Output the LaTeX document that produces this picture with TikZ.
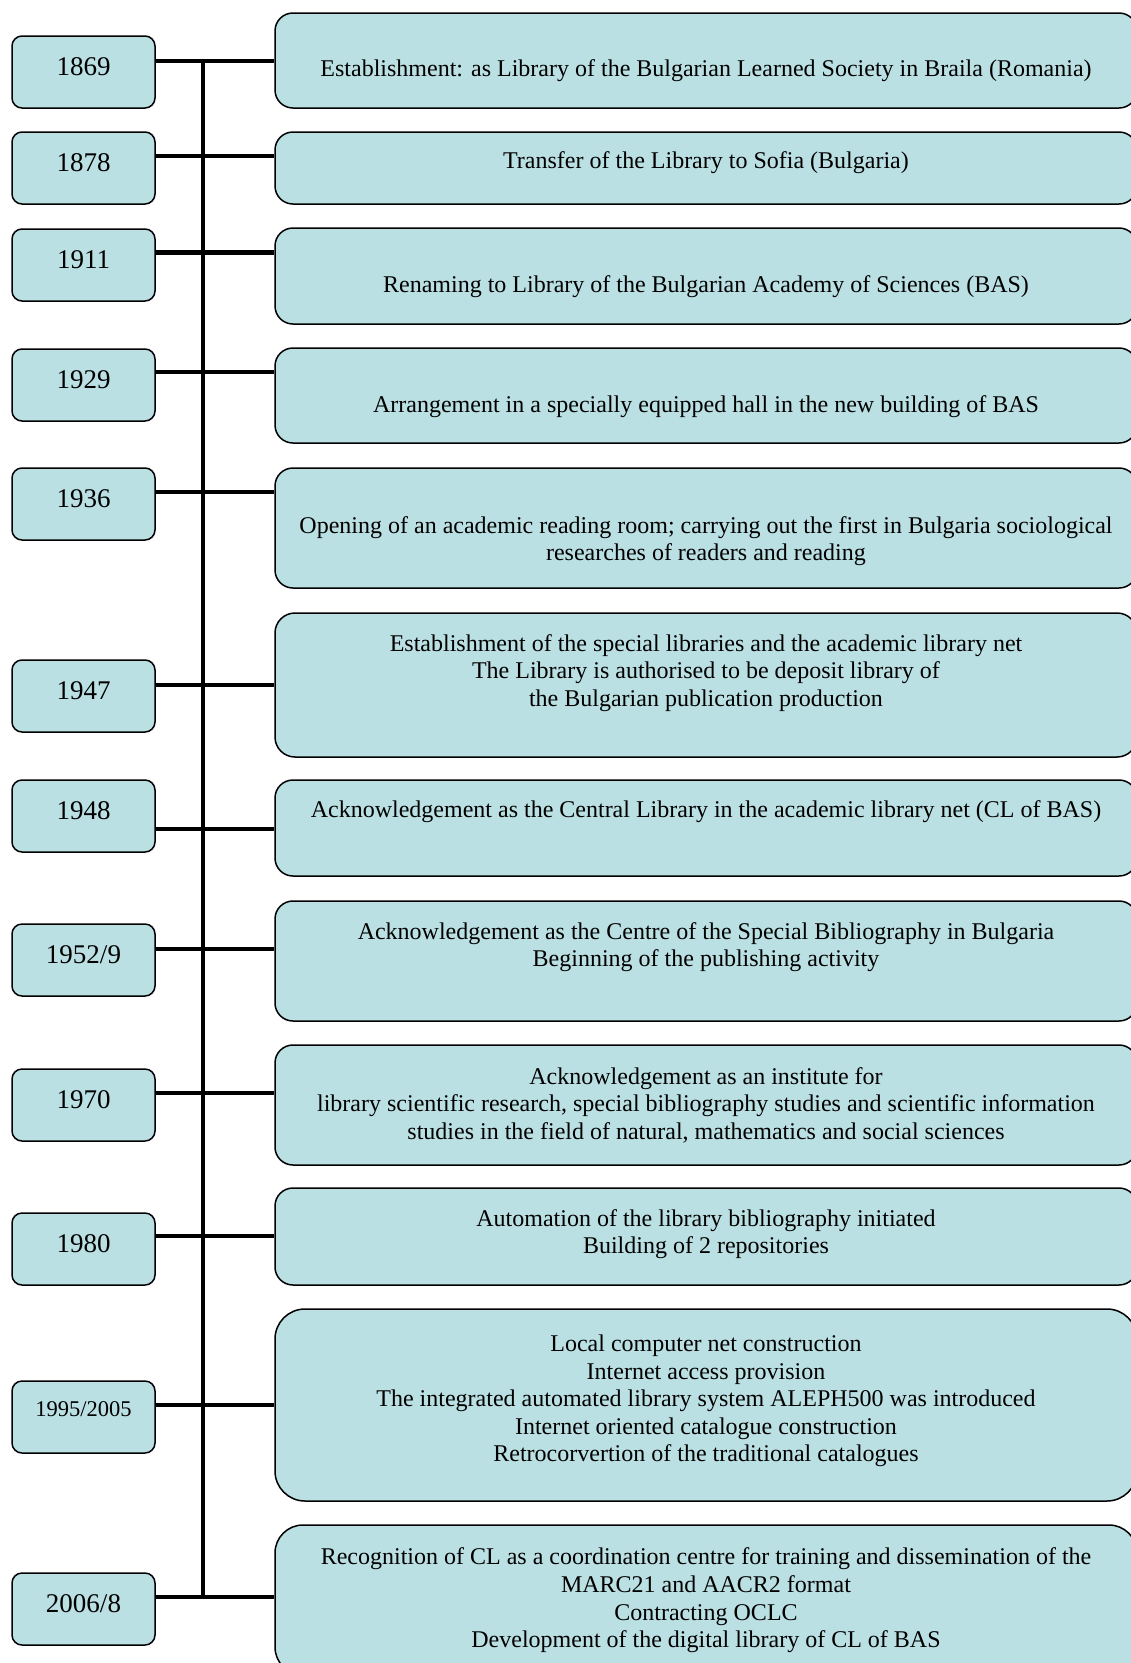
\documentclass[tikz,border=0pt]{standalone}
\usepackage{fontspec}
\setmainfont{Liberation Serif}
\usepackage{tikz}
\usetikzlibrary{positioning}
\definecolor{boxblue}{RGB}{187,224,227}
\tikzstyle{yearnode} = [rectangle, draw, line width=1.5pt, fill=boxblue, rounded corners=10pt, minimum width=143pt, minimum height=72pt, inner sep=0pt, text height=39pt, text depth=33pt, font=\fontsize{27}{30}\selectfont]
\tikzstyle{smallyear} = [font=\fontsize{22.5}{26}\selectfont, text height=35pt, text depth=37pt]
\tikzstyle{eventnode} = [rectangle, draw, line width=1.5pt, fill=boxblue, rounded corners=18pt, minimum width=862pt, inner sep=0pt]
\tikzstyle{eventtext} = [align=center, inner sep=0pt, font=\fontsize{24}{27.6}\selectfont]
\tikzstyle{line} = [draw, line width=4.5pt]

\begin{document}
\begin{tikzpicture}[x=1pt, y=-1pt]
	\useasboundingbox (0,0) rectangle (1131,1663);
	\clip (0,0) rectangle (1131,1663);

	% years
	\node [yearnode] (y1869) at (83.5, 72) {1869};
	\node [yearnode] (y1878) at (83.5, 168) {1878};
	\node [yearnode] (y1911) at (83.5, 265) {1911};
	\node [yearnode] (y1929) at (83.5, 385) {1929};
	\node [yearnode] (y1936) at (83.5, 504) {1936};
	\node [yearnode] (y1947) at (83.5, 696) {1947};
	\node [yearnode] (y1948) at (83.5, 816) {1948};
	\node [yearnode] (y1952) at (83.5, 960) {1952/9};
	\node [yearnode] (y1970) at (83.5, 1105) {1970};
	\node [yearnode] (y1980) at (83.5, 1249) {1980};
	\node [yearnode, smallyear] (y1995) at (83.5, 1417) {1995/2005};
	\node [yearnode] (y2006) at (83.5, 1609) {2006/8};

	% events
	\node [eventnode, minimum height=95pt] (e1869) at (706, 60.5) {};
	\node [eventnode, minimum height=72pt] (e1878) at (706, 168) {};
	\node [eventnode, minimum height=96pt] (e1911) at (706, 276) {};
	\node [eventnode, minimum height=95pt] (e1929) at (706, 395.5) {};
	\node [eventnode, minimum height=120pt] (e1936) at (706, 528) {};
	\node [eventnode, minimum height=144pt, rounded corners=20pt] (e1947) at (706, 685) {};
	\node [eventnode, minimum height=96pt] (e1948) at (706, 828) {};
	\node [eventnode, minimum height=120pt] (e1952) at (706, 961) {};
	\node [eventnode, minimum height=120pt] (e1970) at (706, 1105) {};
	\node [eventnode, minimum height=97pt] (e1980) at (706, 1236.5) {};
	\node [eventnode, minimum height=192pt, rounded corners=30pt] (e1995) at (706, 1405) {};
	\node [eventnode, minimum height=150pt, rounded corners=28pt] (e2006) at (706, 1600) {};

	\node [eventtext] (t1869) at (706, 71) {Establishment: as Library of the Bulgarian Learned Society in Braila (Romania)};
	\node [eventtext] (t1878) at (706, 163) {Transfer of the Library to Sofia (Bulgaria)};
	\node [eventtext] (t1911) at (706, 286.5) {Renaming to Library of the Bulgarian Academy of Sciences (BAS)};
	\node [eventtext] (t1929) at (706, 406.5) {Arrangement in a specially equipped hall in the new building of BAS};
	\node [eventtext] (t1936) at (706, 541) {Opening of an academic reading room; carrying out the first in Bulgaria sociological\\researches of readers and reading};
	\node [eventtext] (t1947) at (706, 673) {Establishment of the special libraries and the academic library net\\The Library is authorised to be deposit library of\\the Bulgarian publication production};
	\node [eventtext] (t1948) at (706, 812) {Acknowledgement as the Central Library in the academic library net (CL of BAS)};
	\node [eventtext] (t1952) at (706, 947) {Acknowledgement as the Centre of the Special Bibliography in Bulgaria\\Beginning of the publishing activity};
	\node [eventtext] (t1970) at (706, 1105) {Acknowledgement as an institute for\\library scientific research, special bibliography studies and scientific information\\studies in the field of natural, mathematics and social sciences};
	\node [eventtext] (t1980) at (706, 1234) {Automation of the library bibliography initiated\\Building of 2 repositories};
	\node [eventtext] (t1995) at (706, 1401) {Local computer net construction\\Internet access provision\\The integrated automated library system ALEPH500 was introduced\\Internet oriented catalogue construction\\Retrocorvertion of the traditional catalogues};
	\node [eventtext] (t2006) at (706, 1600.5) {Recognition of CL as a coordination centre for training and dissemination of the\\MARC21 and AACR2 format\\Contracting OCLC\\Development of the digital library of CL of BAS};

	% spine joints
	\coordinate (j1869) at (203, 61);
	\coordinate (j1878) at (203, 156);
	\coordinate (j1911) at (203, 252.5);
	\coordinate (j1929) at (203, 372);
	\coordinate (j1936) at (203, 492);
	\coordinate (j1947) at (203, 685);
	\coordinate (j1948) at (203, 829);
	\coordinate (j1952) at (203, 949);
	\coordinate (j1970) at (203, 1093);
	\coordinate (j1980) at (203, 1236);
	\coordinate (j1995) at (203, 1405);
	\coordinate (j2006) at (203, 1597);

	\path [line] (j1869) -- (j2006);
	\foreach \n in {1869,1878,1911,1929,1936,1947,1948,1952,1970,1980,1995,2006}
		\path [line] (y\n.east |- j\n) -- (e\n.west |- j\n);
\end{tikzpicture}
\end{document}
